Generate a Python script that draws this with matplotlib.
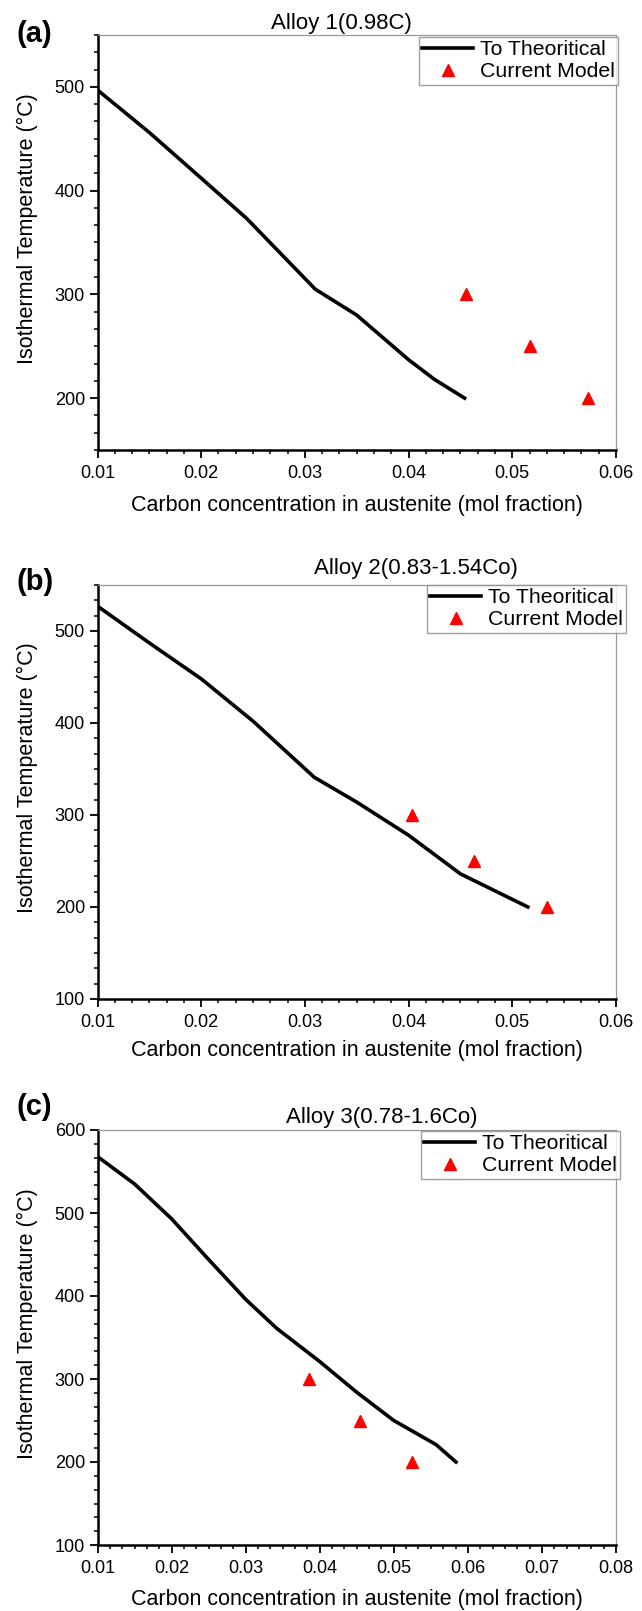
import matplotlib
matplotlib.use("Agg")
import matplotlib.pyplot as plt
from matplotlib.ticker import MultipleLocator

plt.rcParams['font.family'] = ['Liberation Sans', 'DejaVu Sans']

# theoretical curves
xa = [0.010, 0.015, 0.020, 0.0244, 0.0310, 0.035, 0.040, 0.0425, 0.0454]
ya = [497, 456, 412, 373, 305, 280, 237, 218, 200]
xb = [0.010, 0.015, 0.020, 0.025, 0.0309, 0.035, 0.040, 0.045, 0.0515]
yb = [527, 487, 448, 402, 341, 314, 278, 236, 200]
xc = [0.010, 0.015, 0.020, 0.025, 0.030, 0.0342, 0.040, 0.045, 0.050, 0.0557, 0.0584]
yc = [568, 535, 493, 444, 396, 361, 321, 284, 250, 221, 200]

# current model points
temps = [300, 250, 200]
ma = [0.0455, 0.0517, 0.0573]
mb = [0.0403, 0.0463, 0.0533]
mc = [0.0386, 0.0454, 0.0524]

titles = ["Alloy 1(0.98C)", "Alloy 2(0.83-1.54Co)", "Alloy 3(0.78-1.6Co)"]
letters = ["(a)", "(b)", "(c)"]

W, H = 642, 1611
fig = plt.figure(figsize=(W / 100, H / 100), dpi=100)

# axes boxes in pixels: left, top, right, bottom
boxes = [(97.5, 35, 616, 450), (97.5, 585, 616, 999), (97.5, 1130, 616, 1545)]
title_pos = [(341, 23), (416, 568), (382, 1117)]
letter_pos = [(17, 34), (17, 582), (17, 1107)]
xlims = [(0.01, 0.06), (0.01, 0.06), (0.01, 0.08)]
ylims = [(150, 550), (100, 550), (100, 600)]
legend_box = [(419, 37), (427, 585), (421, 1131)]
xlabel_off = [-0.108, -0.100, -0.106]

data = [(xa, ya, ma), (xb, yb, mb), (xc, yc, mc)]

for i in range(3):
    l, t, r, b = boxes[i]
    ax = fig.add_axes([l / W, 1 - b / H, (r - l) / W, (b - t) / H])
    x, y, m = data[i]
    ax.plot(x, y, color="black", linewidth=2.6, label="To Theoritical")
    ax.plot(m, temps, linestyle="none", marker="^", color="red", markersize=8,
            label="Current Model")
    ax.set_xlim(*xlims[i])
    ax.set_ylim(*ylims[i])
    ax.xaxis.set_minor_locator(MultipleLocator(0.01 / 6))
    ax.yaxis.set_major_locator(MultipleLocator(100))
    ax.yaxis.set_minor_locator(MultipleLocator(100 / 6))
    xt = [v / 100 for v in range(1, int(round(xlims[i][1] * 100)) + 1)]
    ax.set_xticks(xt)
    ax.set_xticklabels([f"{v:.2f}" for v in xt])
    ax.tick_params(which="major", direction="out", length=6, width=1.3, labelsize=13,
                   top=False, right=False)
    ax.tick_params(axis="x", which="major", pad=5)
    ax.tick_params(axis="y", which="major", pad=3)
    ax.tick_params(which="minor", direction="out", length=3, width=1.1, top=False, right=False)
    for s in ["left", "bottom"]:
        ax.spines[s].set_linewidth(1.8)
        ax.spines[s].set_color("black")
    for s in ["top", "right"]:
        ax.spines[s].set_linewidth(0.9)
        ax.spines[s].set_color("#999999")
    ax.set_ylabel("Isothermal Temperature (°C)", fontsize=15.5)
    ax.yaxis.set_label_coords(-0.115, 0.534)
    ax.set_xlabel("Carbon concentration in austenite (mol fraction)", fontsize=15.5)
    ax.xaxis.set_label_coords(0.5, xlabel_off[i])

    lx, ly = legend_box[i]
    leg = ax.legend(loc="upper left", bbox_to_anchor=(lx / W, 1 - ly / H),
                    bbox_transform=fig.transFigure, fontsize=15.3, frameon=True,
                    fancybox=False, borderpad=0.15, handlelength=2.4, handletextpad=0.3,
                    labelspacing=0.15, borderaxespad=0)
    leg.get_frame().set_edgecolor("#888888")
    leg.get_frame().set_linewidth(1.0)

    fig.text(title_pos[i][0] / W, 1 - title_pos[i][1] / H, titles[i], ha="center",
             va="center", fontsize=16)
    fig.text(letter_pos[i][0] / W, 1 - letter_pos[i][1] / H, letters[i], ha="left",
             va="center", fontsize=21, fontweight="bold")

plt.savefig("out.png", dpi=100)
plt.close()
